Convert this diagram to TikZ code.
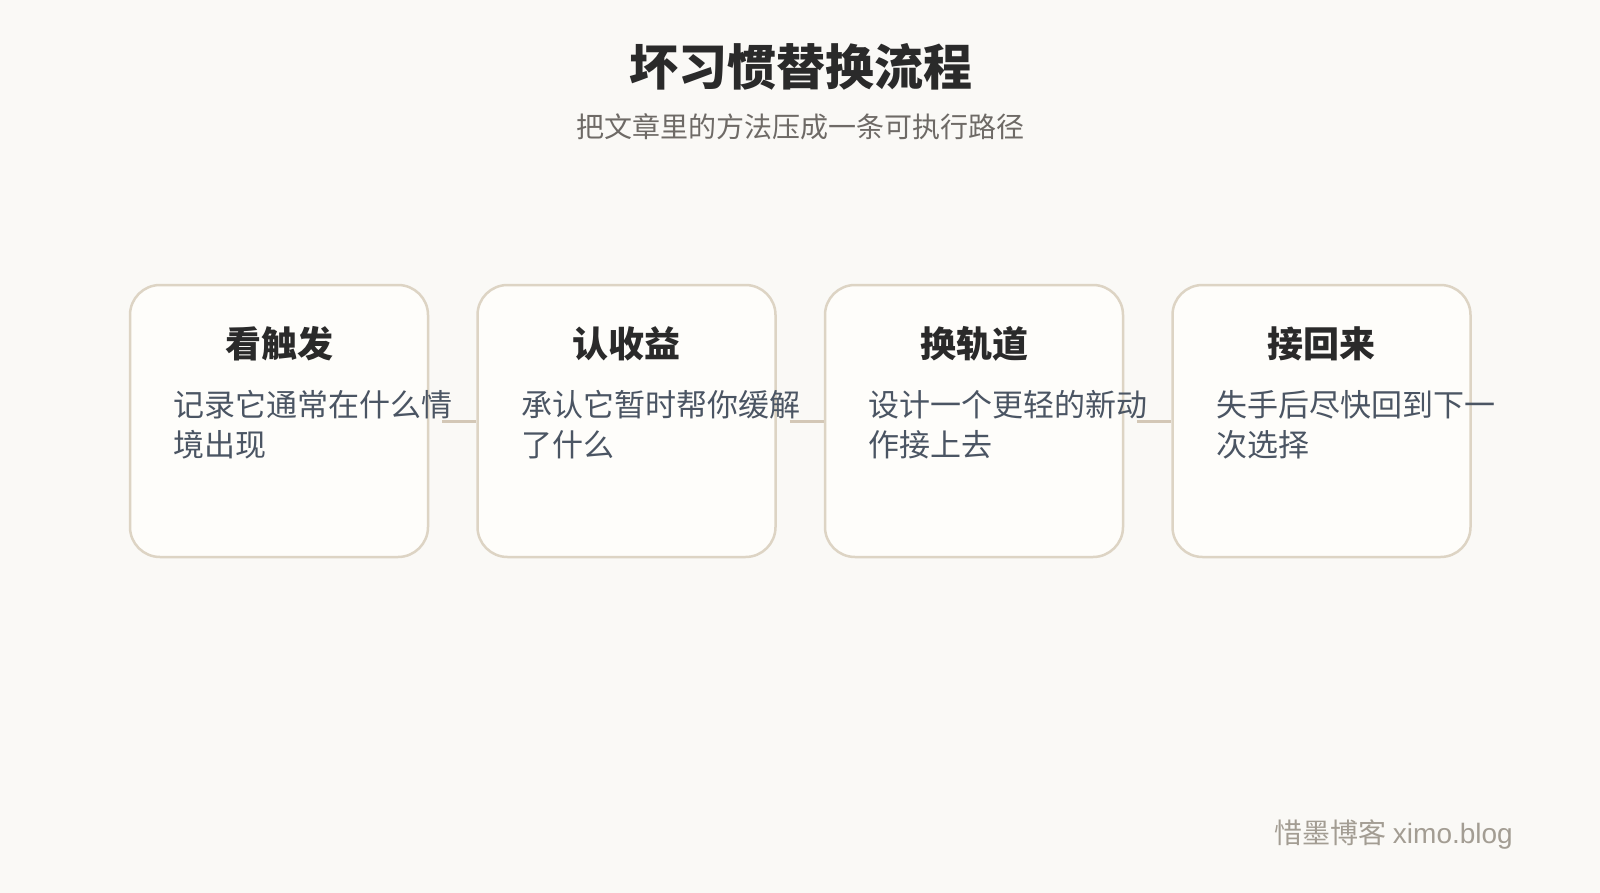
\documentclass[tikz,border=0pt]{standalone}
\usepackage{fontspec}
\setmainfont{Noto Sans CJK SC}
\newfontfamily\latinfont{Liberation Sans}
\usetikzlibrary{positioning}

\definecolor{pagebg}{HTML}{FAF9F6}
\definecolor{boxfill}{HTML}{FEFDFA}
\definecolor{boxline}{HTML}{DDD4C4}
\definecolor{linkline}{HTML}{D3C7B6}
\definecolor{headtext}{HTML}{2A2A2A}
\definecolor{subtext}{HTML}{6E6A66}
\definecolor{bodytext}{HTML}{4B5563}
\definecolor{marktext}{HTML}{A39D93}

\tikzset{
  stepbox/.style={draw=boxline, fill=boxfill, line width=2.5pt, rounded corners=30pt,
    minimum width=298pt, minimum height=272pt, inner sep=0pt},
  stephead/.style={font=\fontsize{36}{40}\selectfont\bfseries, text=headtext, inner sep=0pt},
  stepbody/.style={font=\fontsize{31}{40}\selectfont, text=bodytext, align=left, anchor=west, inner sep=0pt},
  link/.style={draw=linkline, line width=3pt}
}

\begin{document}
\begin{tikzpicture}[x=1pt, y=-1pt]
  \fill[pagebg] (0,0) rectangle (1600,893);
  \useasboundingbox (0,0) rectangle (1600,893);

  \node[font=\fontsize{49}{54}\selectfont\bfseries, text=headtext] (title) at (801,67) {坏习惯替换流程};
  \node[font=\fontsize{28}{32}\selectfont, text=subtext] (subtitle) at (800,127) {把文章里的方法压成一条可执行路径};

  \node[stepbox] (s1) at (279,421) {};
  \node[stepbox, right=47pt of s1] (s2) {};
  \node[stepbox, right=47pt of s2] (s3) {};
  \node[stepbox, right=47pt of s3] (s4) {};

  % connectors
  \coordinate[xshift=13pt] (c1) at (s1.east);
  \coordinate[xshift=13pt] (c2) at (s2.east);
  \coordinate[xshift=13pt] (c3) at (s3.east);
  \draw[link] (c1) -- (s2.west);
  \draw[link] (c2) -- (s3.west);
  \draw[link] (c3) -- (s4.west);

  \node[stephead] (h1) at ([yshift=77pt]s1.center) {看触发};
  \node[stephead] (h2) at ([yshift=77pt]s2.center) {认收益};
  \node[stephead] (h3) at ([yshift=77pt]s3.center) {换轨道};
  \node[stephead] (h4) at ([yshift=77pt]s4.center) {接回来};

  \node[stepbody] (t1) at ([xshift=45pt, yshift=-4pt]s1.west) {记录它通常在什么情\\境出现};
  \node[stepbody] (t2) at ([xshift=45pt, yshift=-4pt]s2.west) {承认它暂时帮你缓解\\了什么};
  \node[stepbody] (t3) at ([xshift=45pt, yshift=-4pt]s3.west) {设计一个更轻的新动\\作接上去};
  \node[stepbody] (t4) at ([xshift=45pt, yshift=-4pt]s4.west) {失手后尽快回到下一\\次选择};

  \node[font=\fontsize{28}{30}\selectfont, text=marktext, anchor=east, inner sep=0pt] (mark) at (1513,835) {惜墨博客 {\latinfont ximo.blog}};
\end{tikzpicture}
\end{document}
